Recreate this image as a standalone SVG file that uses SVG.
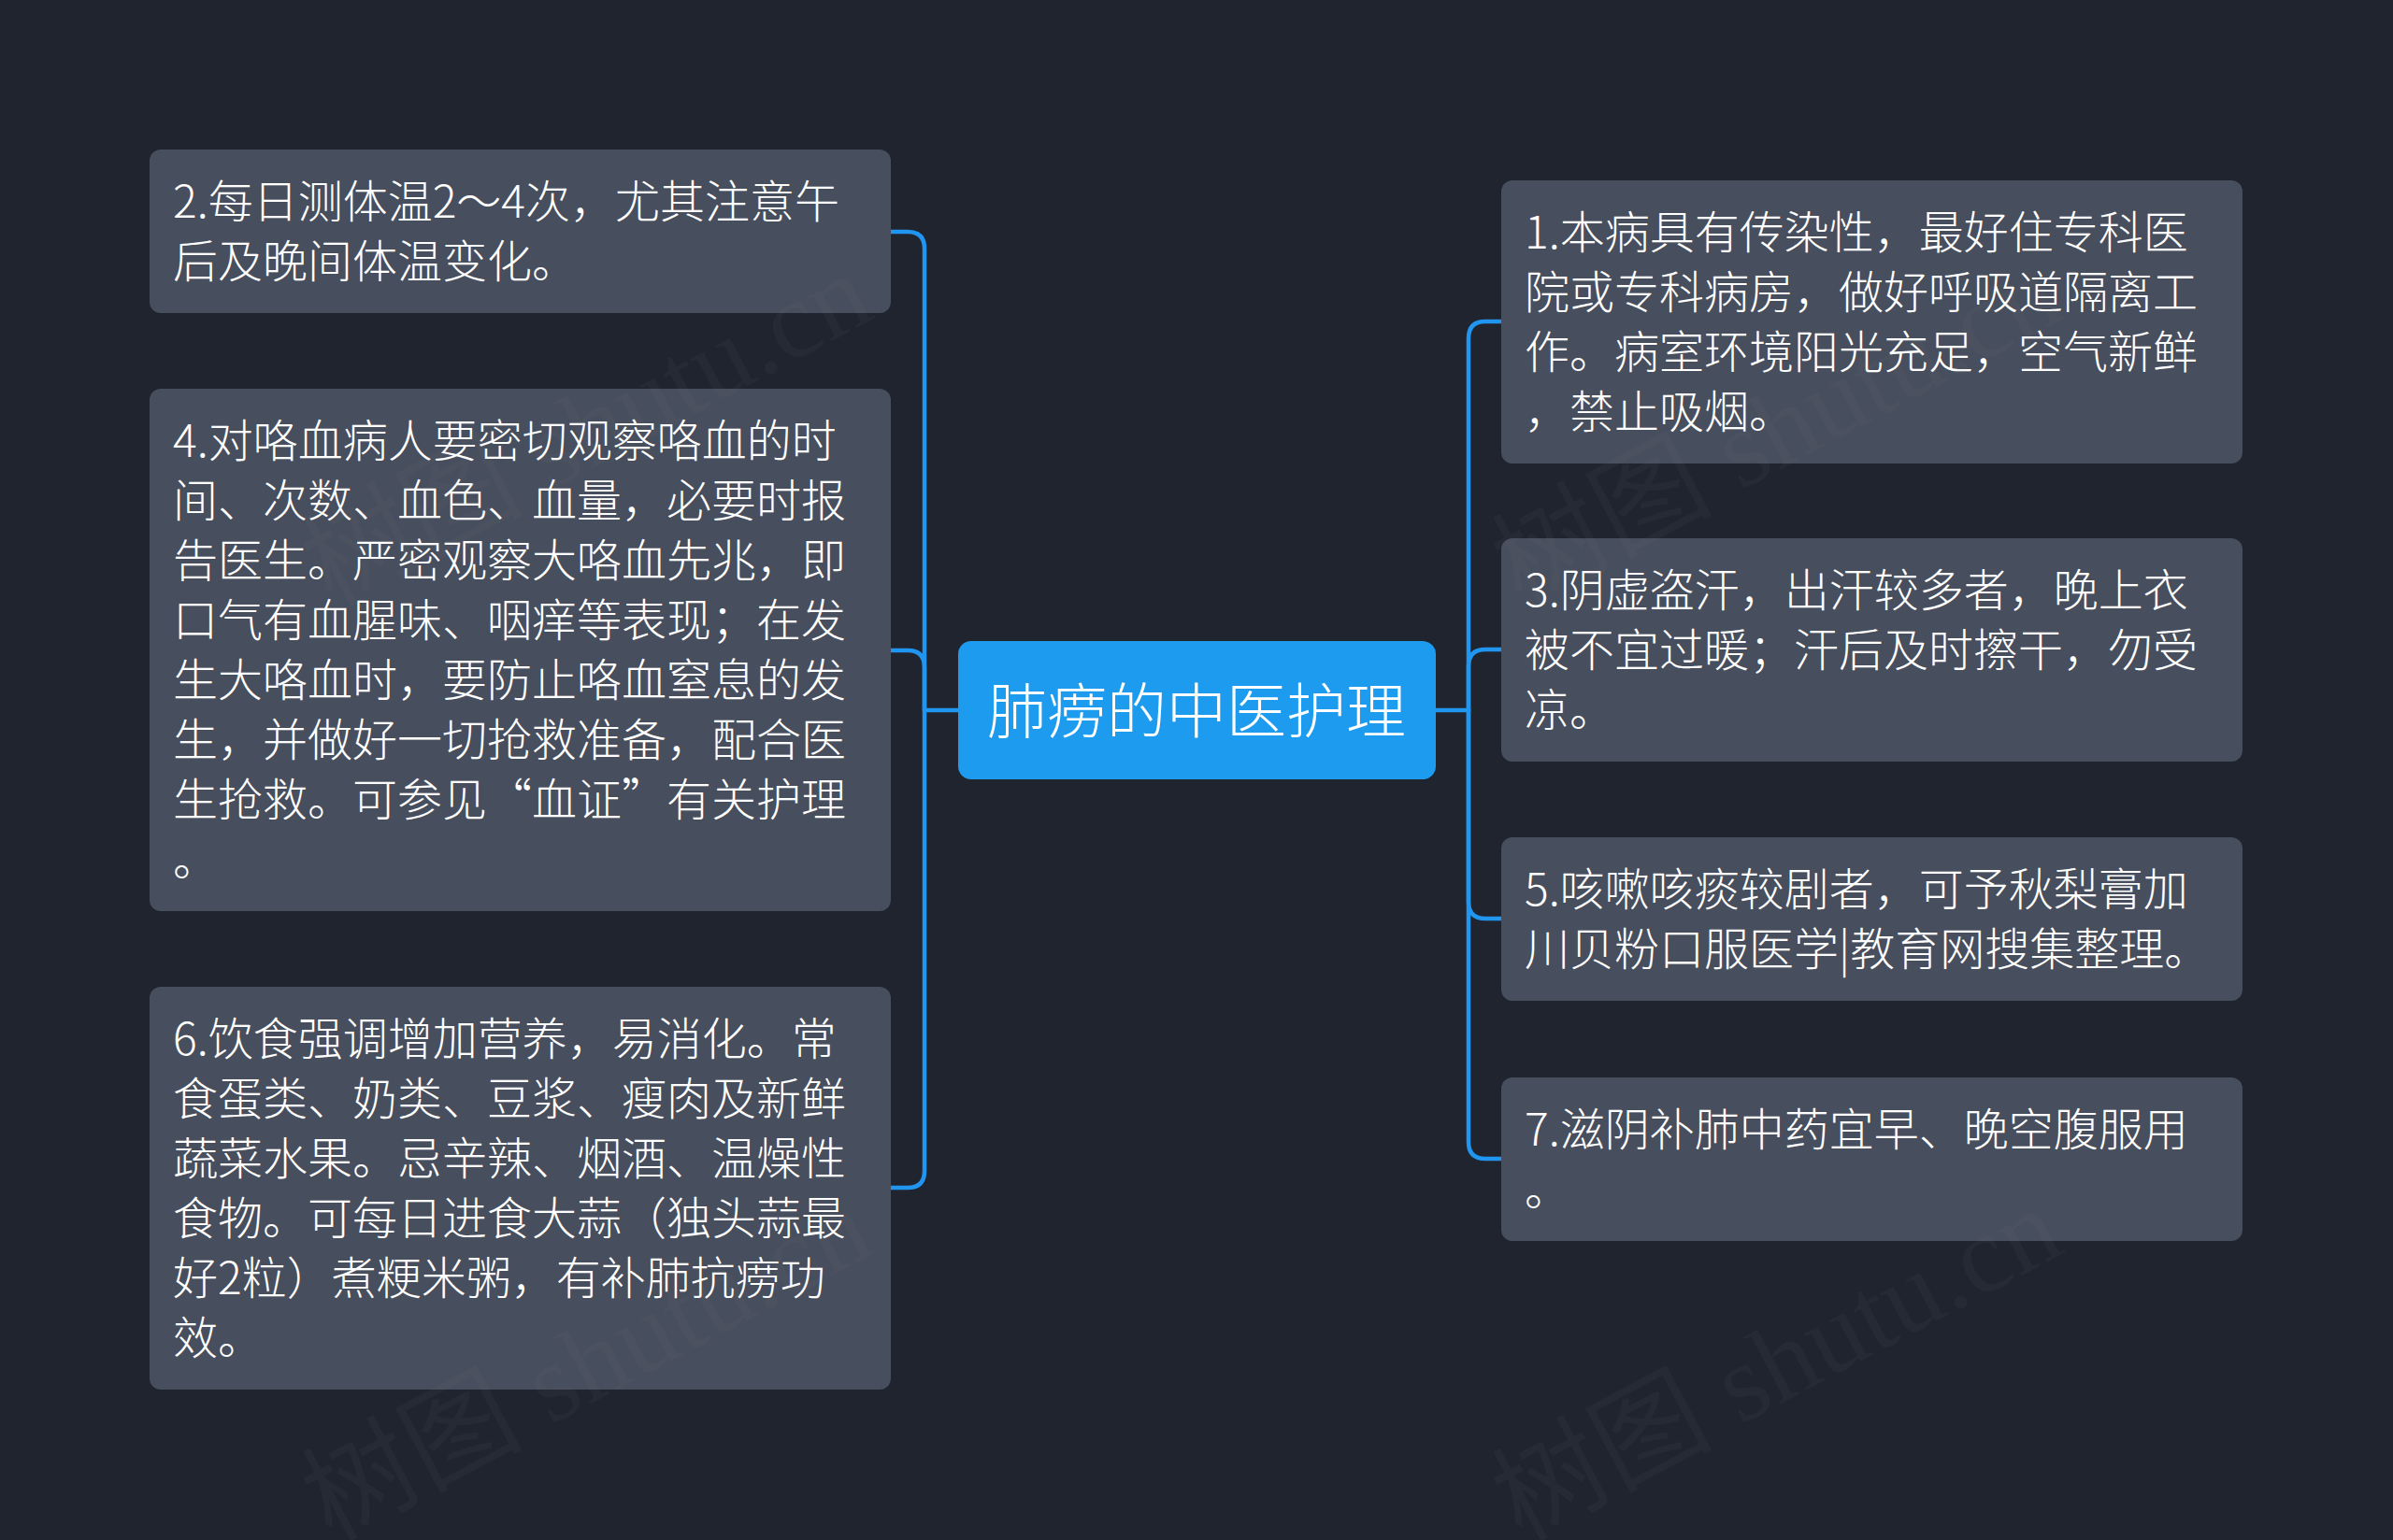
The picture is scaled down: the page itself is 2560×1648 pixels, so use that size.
<svg xmlns="http://www.w3.org/2000/svg" width="2560" height="1648" viewBox="0 0 2560 1648">
<defs>
<style>
.bg{fill:#20242f}
.node{fill:#474e5d}
.center{fill:#1c9bef}
.t{font-family:"Noto Sans CJK SC","Noto Sans",sans-serif;font-size:48px;font-weight:300;fill:#ffffff}
.ct{font-family:"Noto Sans CJK SC","Noto Sans",sans-serif;font-size:64px;font-weight:300;fill:#ffffff;text-anchor:middle}
.conn path{fill:none;stroke:#2196f0;stroke-width:4.5;stroke-linecap:round;stroke-linejoin:round}
.wm{font-family:"Liberation Serif","Noto Sans CJK SC",serif;font-size:118px;fill:#8a8f99;fill-opacity:0.055}
</style>
</defs>
<rect class="bg" x="0" y="0" width="2560" height="1648"/>

<g id="connectors" class="conn">
<path d="M1025,760 H989"/>
<path d="M989,760 V266 Q989,248 971,248 H953"/>
<path d="M989,760 V714 Q989,696 971,696 H953"/>
<path d="M989,760 V1253 Q989,1271 971,1271 H953"/>
<path d="M1536,760 H1571"/>
<path d="M1571,760 V362 Q1571,344 1589,344 H1607"/>
<path d="M1571,760 V713 Q1571,695 1589,695 H1607"/>
<path d="M1571,760 V965 Q1571,983 1589,983 H1607"/>
<path d="M1571,760 V1222 Q1571,1240 1589,1240 H1607"/>
</g>

<g id="center">
<rect class="center" x="1025" y="686" width="511" height="148" rx="14"/>
<text class="ct" x="1280" y="784">肺痨的中医护理</text>
</g>

<g id="node2">
<rect class="node" x="160" y="160" width="793" height="175" rx="12"/>
<text class="t" x="185" y="233"><tspan x="185">2.每日测体温2～4次，尤其注意午</tspan><tspan x="185" dy="64">后及晚间体温变化。</tspan></text>
</g>

<g id="node4">
<rect class="node" x="160" y="416" width="793" height="559" rx="12"/>
<text class="t" x="185" y="489"><tspan x="185">4.对咯血病人要密切观察咯血的时</tspan><tspan x="185" dy="64">间、次数、血色、血量，必要时报</tspan><tspan x="185" dy="64">告医生。严密观察大咯血先兆，即</tspan><tspan x="185" dy="64">口气有血腥味、咽痒等表现；在发</tspan><tspan x="185" dy="64">生大咯血时，要防止咯血窒息的发</tspan><tspan x="185" dy="64">生，并做好一切抢救准备，配合医</tspan><tspan x="185" dy="64">生抢救。可参见“血证”有关护理</tspan><tspan x="185" dy="64">。</tspan></text>
</g>

<g id="node6">
<rect class="node" x="160" y="1056" width="793" height="431" rx="12"/>
<text class="t" x="185" y="1129"><tspan x="185">6.饮食强调增加营养，易消化。常</tspan><tspan x="185" dy="64">食蛋类、奶类、豆浆、瘦肉及新鲜</tspan><tspan x="185" dy="64">蔬菜水果。忌辛辣、烟酒、温燥性</tspan><tspan x="185" dy="64">食物。可每日进食大蒜（独头蒜最</tspan><tspan x="185" dy="64">好2粒）煮粳米粥，有补肺抗痨功</tspan><tspan x="185" dy="64">效。</tspan></text>
</g>

<g id="node1">
<rect class="node" x="1606" y="193" width="793" height="303" rx="12"/>
<text class="t" x="1631" y="266"><tspan x="1631">1.本病具有传染性，最好住专科医</tspan><tspan x="1631" dy="64">院或专科病房，做好呼吸道隔离工</tspan><tspan x="1631" dy="64">作。病室环境阳光充足，空气新鲜</tspan><tspan x="1631" dy="64">，禁止吸烟。</tspan></text>
</g>

<g id="node3">
<rect class="node" x="1606" y="576" width="793" height="239" rx="12"/>
<text class="t" x="1631" y="649"><tspan x="1631">3.阴虚盗汗，出汗较多者，晚上衣</tspan><tspan x="1631" dy="64">被不宜过暖；汗后及时擦干，勿受</tspan><tspan x="1631" dy="64">凉。</tspan></text>
</g>

<g id="node5">
<rect class="node" x="1606" y="896" width="793" height="175" rx="12"/>
<text class="t" x="1631" y="969"><tspan x="1631">5.咳嗽咳痰较剧者，可予秋梨膏加</tspan><tspan x="1631" dy="64">川贝粉口服医学|教育网搜集整理。</tspan></text>
</g>

<g id="node7">
<rect class="node" x="1606" y="1153" width="793" height="175" rx="12"/>
<text class="t" x="1631" y="1226"><tspan x="1631">7.滋阴补肺中药宜早、晚空腹服用</tspan><tspan x="1631" dy="64">。</tspan></text>
</g>

<g id="watermarks">
<text class="wm" x="354" y="650" transform="rotate(-28 354 650)">树图 shutu.cn</text>
<text class="wm" x="1627" y="650" transform="rotate(-28 1627 650)">树图 shutu.cn</text>
<text class="wm" x="354" y="1650" transform="rotate(-28 354 1650)">树图 shutu.cn</text>
<text class="wm" x="1627" y="1650" transform="rotate(-28 1627 1650)">树图 shutu.cn</text>
</g>
</svg>
